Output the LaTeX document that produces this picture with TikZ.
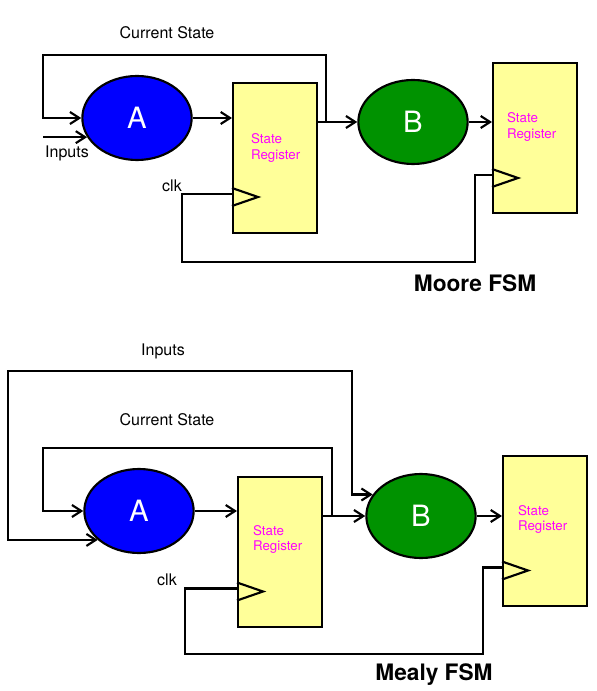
\documentclass[tikz,border=0pt]{standalone}
\usepackage{fontspec}
\setmainfont{TeX Gyre Heros}
\usetikzlibrary{shapes.geometric, arrows.meta, calc}
\definecolor{regyellow}{RGB}{255,255,153}
\definecolor{stateblue}{RGB}{0,0,255}
\definecolor{stategreen}{RGB}{0,146,0}
\definecolor{regmagenta}{RGB}{255,0,255}

\begin{document}
\begin{tikzpicture}[x=0.75pt, y=-0.75pt, line width=1.6pt,
  arr/.style={-{Straight Barb[length=7pt,width=9pt]}},
  arrboth/.style={{Straight Barb[length=7pt,width=9pt]}-{Straight Barb[length=7pt,width=9pt]}},
  fsm/.style={ellipse, draw, line width=1.6pt, minimum width=82pt, minimum height=63pt, inner sep=0pt, text=white, font=\fontsize{22}{26}\selectfont},
  reg/.style={draw, fill=regyellow, line width=1.5pt, minimum width=63pt, minimum height=112.5pt, inner sep=0pt},
  regtext/.style={anchor=west, align=left, text=regmagenta, font=\fontsize{10}{11.5}\selectfont, inner sep=0pt},
  lbl/.style={font=\fontsize{12}{14}\selectfont, inner sep=0pt},
  fsmtitle/.style={font=\fontsize{17}{20}\selectfont\bfseries, inner sep=0pt}]

\useasboundingbox (0,0) rectangle (596,691);

%% Moore
\node[fsm, fill=stateblue] (A1) at (137,118) {A};
\node[reg] (R1) at (275,158) {};
\node[fsm, fill=stategreen] (B1) at (413,122) {B};
\node[reg] (R2) at (535,138) {};

\node[regtext] (R1txt) at ($(R1.north west)+(18,66)$) {State\\Register};
\node[regtext] (R2txt) at ($(R2.north west)+(14,65)$) {State\\Register};

\node[lbl] (cs1) at (167,33) {Current State};
\node[lbl] (in1) at (67,153) {Inputs};
\node[lbl] (clk1) at (172,186) {clk};
\node[fsmtitle] (moore) at (475,283) {Moore FSM};

\coordinate (j1) at ($(R1.east |- B1.west)+(8,0)$);
\coordinate (t1) at (43,55);
\coordinate (ck1) at ($(R1.south west)+(0,-40)$);
\coordinate (ck2) at ($(R2.south west)+(0,-39)$);
\coordinate (c1) at (182,262);
\coordinate (c2) at (475,262);

\draw[arr] (A1.east) -- (A1.east -| R1.west);
\draw[arr] (R1.east |- B1.west) -- (B1.west);
\draw[arr] (j1) |- (t1) |- (A1.west);
\draw[arr] (A1.201 -| t1) -- (A1.201);
\draw[arr] (B1.east) -- (B1.east -| R2.west);

\draw (ck1) -| (c1) -- (c2) |- (ck2);
\draw ($(ck1)+(0,-6)$) -- ($(ck1)+(26,3)$) -- ($(ck1)+(0,12)$);
\draw ($(ck2)+(0,-6)$) -- ($(ck2)+(26,3)$) -- ($(ck2)+(0,12)$);

%% Mealy
\node[fsm, fill=stateblue] (A2) at (139,511) {A};
\node[reg] (R3) at (280,551.5) {};
\node[fsm, fill=stategreen] (B2) at (421,516) {B};
\node[reg] (R4) at (545,530.5) {};

\node[regtext] (R3txt) at ($(R3.north west)+(15,64)$) {State\\Register};
\node[regtext] (R4txt) at ($(R4.north west)+(15,65)$) {State\\Register};

\node[lbl] (in2) at (163,351) {Inputs};
\node[lbl] (cs2) at (167,420) {Current State};
\node[lbl] (clk2) at (167,580) {clk};
\node[fsmtitle] (mealy) at (434,675) {Mealy FSM};

\coordinate (j2) at ($(R3.east |- B2.west)+(9,0)$);
\coordinate (t2) at (43,448);
\coordinate (o1) at (8,371);
\coordinate (o2) at (352,371);
\coordinate (ck3) at ($(R3.south west)+(0,-39)$);
\coordinate (ck4) at ($(R4.south west)+(0,-39)$);
\coordinate (c3) at (185,654);
\coordinate (c4) at (483,654);

\draw[arr] (A2.east) -- (A2.east -| R3.west);
\draw[arr] (R3.east |- B2.west) -- (B2.west);
\draw[arr] (j2) |- (t2) |- (A2.west);
\draw[arrboth] (A2.215) -| (o1) -| (o2 |- B2.156) -- (B2.156);
\draw[arr] (B2.east) -- (B2.east -| R4.west);

\draw (ck3) -| (c3) -- (c4) |- (ck4);
\draw ($(ck3)+(0,-6)$) -- ($(ck3)+(26,3)$) -- ($(ck3)+(0,12)$);
\draw ($(ck4)+(0,-6)$) -- ($(ck4)+(26,3)$) -- ($(ck4)+(0,12)$);
\end{tikzpicture}
\end{document}
